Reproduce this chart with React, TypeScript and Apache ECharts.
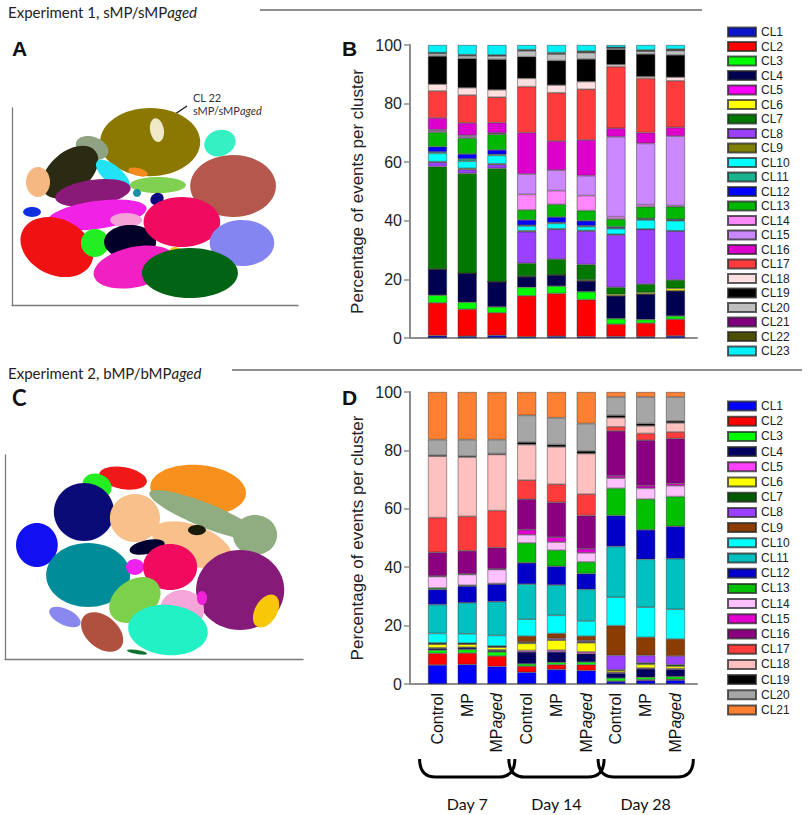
import React, { useEffect, useRef } from "react";
import * as echarts from "echarts";

// ---------- categories ----------
const CLUSTERS_B = Array.from({ length: 23 }, (_, i) => "CL" + (i + 1));
const CLUSTERS_D = Array.from({ length: 21 }, (_, i) => "CL" + (i + 1));
const GROUP_LABELS = ["Control", "MP", "MPaged", "Control", "MP", "MPaged", "Control", "MP", "MPaged"];
const DAY_LABELS = ["Day 7", "Day 14", "Day 28"];
const DAY_SPANS = [
  [0, 2],
  [3, 5],
  [6, 8],
];

const COLORS_B = [
  "#0a14c8", "#ff0000", "#00ff00", "#000050", "#ff00ff", "#ffff00", "#007800", "#9b40ff",
  "#808000", "#00ffff", "#19b38f", "#0000ff", "#00b800", "#ff88ff", "#cc88ff", "#dd00cc",
  "#ff3c3c", "#ffe0e0", "#000000", "#bfbfbf", "#800080", "#4d4d00", "#00f0f8",
];
const COLORS_D = [
  "#0000ff", "#ff0000", "#00ff00", "#000060", "#ff40ff", "#ffff00", "#005a00", "#9b40ff",
  "#8b3c00", "#00ffff", "#00c0c0", "#0000c8", "#00c000", "#ffc0ff", "#e000d0", "#8b0080",
  "#ff3c3c", "#ffc0c0", "#000000", "#a6a6a6", "#ff8033",
];

// ---------- Experiment 1 (B): % per cluster CL1..CL23, bottom to top ----------
const B_D7_CONTROL = [0.8, 11.2, 2.6, 8.9, 0, 0, 35.0, 1.5, 0.2, 2.8, 0.5, 1.8, 4.9, 0.5, 0.4, 4.0, 9.2, 2.3, 9.6, 0.9, 0.2, 0.1, 2.6];
const B_D7_MP = [0.6, 9.2, 2.4, 9.9, 0, 0, 34.1, 1.3, 0.4, 2.4, 0.8, 1.7, 5.4, 0.5, 0.5, 4.2, 9.5, 2.5, 10.0, 0.9, 0.2, 0.2, 3.3];
const B_D7_MPAGED = [0.9, 7.7, 2.0, 8.6, 0, 0, 38.7, 1.3, 0.3, 2.8, 0.4, 1.5, 5.3, 0.3, 0.2, 3.5, 8.7, 2.5, 10.4, 1.2, 0.1, 0.2, 3.4];
const B_D14_CONTROL = [0.4, 14.0, 2.9, 3.6, 0, 0.2, 4.4, 10.8, 0.3, 1.6, 0.3, 1.8, 3.4, 5.3, 7.0, 14.1, 15.7, 2.8, 7.4, 2.0, 0.2, 0.2, 1.6];
const B_D14_MP = [0.6, 14.6, 2.5, 3.8, 0, 0, 5.4, 10.2, 0.2, 1.8, 0.3, 1.9, 4.3, 4.7, 7.0, 9.9, 16.5, 2.6, 8.4, 2.2, 0.2, 0.3, 2.6];
const B_D14_MPAGED = [0.5, 12.6, 2.7, 3.7, 0, 0.3, 5.3, 11.4, 0.2, 1.3, 0.3, 1.7, 3.5, 5.1, 6.8, 12.2, 17.3, 2.6, 7.7, 2.2, 0.1, 0.4, 2.1];
const B_D28_CONTROL = [0.5, 4.2, 1.9, 7.8, 0, 0.5, 2.4, 17.9, 0.2, 1.9, 0.3, 0.4, 2.6, 0.8, 27.3, 2.9, 21.0, 0.7, 5.2, 0.5, 0.1, 0.1, 0.8];
const B_D28_MP = [0.4, 4.7, 1.2, 8.7, 0, 0.5, 2.9, 18.7, 0.1, 3.1, 0.2, 0.3, 4.0, 0.7, 20.9, 3.7, 18.5, 0.6, 7.7, 1.0, 0.1, 0.3, 1.7];
const B_D28_MPAGED = [0.7, 5.7, 1.1, 8.6, 0, 0.8, 2.9, 16.7, 0.1, 3.4, 0.2, 0.3, 4.3, 0.4, 23.7, 3.0, 15.9, 1.2, 7.6, 1.5, 0.1, 0.4, 1.4];
const B_BARS = [B_D7_CONTROL, B_D7_MP, B_D7_MPAGED, B_D14_CONTROL, B_D14_MP, B_D14_MPAGED, B_D28_CONTROL, B_D28_MP, B_D28_MPAGED];

// ---------- Experiment 2 (D): % per cluster CL1..CL21 ----------
const D_D7_CONTROL = [6.5, 4.0, 1.1, 0.6, 0.2, 1.2, 0.2, 0.1, 0.2, 3.2, 9.9, 5.2, 0.5, 3.9, 0.2, 8.1, 11.9, 21.0, 0.3, 5.4, 16.3];
const D_D7_MP = [6.7, 3.9, 1.2, 0.6, 0.2, 1.0, 0.2, 0.1, 0.1, 3.2, 10.6, 5.7, 0.3, 3.7, 0.2, 7.9, 11.8, 20.3, 0.3, 5.7, 16.3];
const D_D7_MPAGED = [6.0, 3.6, 1.4, 0.5, 0.2, 0.9, 0.2, 0.1, 0.1, 3.6, 11.6, 6.0, 0.2, 4.8, 0.2, 7.3, 12.7, 19.2, 0.3, 4.8, 16.3];
const D_D14_CONTROL = [4.0, 2.1, 0.8, 4.1, 0.5, 2.4, 0.3, 0.2, 2.0, 5.8, 12.0, 7.3, 6.8, 2.8, 1.7, 10.5, 6.5, 12.2, 0.8, 9.2, 8.0];
const D_D14_MP = [5.0, 1.6, 0.8, 3.6, 0.6, 3.4, 0.2, 0.4, 1.7, 6.2, 10.4, 6.4, 5.5, 2.8, 1.7, 11.9, 6.2, 12.8, 0.8, 9.2, 8.8];
const D_D14_MPAGED = [4.6, 2.0, 0.9, 2.9, 0.6, 3.1, 0.3, 0.4, 1.6, 5.2, 10.8, 5.4, 4.0, 3.1, 1.4, 11.4, 7.3, 13.9, 0.9, 9.4, 10.8];
const D_D28_CONTROL = [0.8, 0.2, 1.0, 1.7, 0.3, 0.6, 0.3, 4.9, 10.2, 9.7, 17.4, 10.6, 9.3, 3.5, 0.8, 15.4, 1.4, 3.1, 0.8, 6.3, 1.7];
const D_D28_MP = [1.2, 0.3, 0.8, 2.9, 0.3, 1.2, 0.5, 2.6, 6.2, 10.3, 16.4, 10.1, 10.5, 3.7, 0.9, 15.6, 2.3, 2.6, 0.8, 9.1, 1.7];
const D_D28_MPAGED = [1.3, 0.3, 0.9, 2.5, 0.3, 0.8, 0.5, 3.0, 5.8, 10.2, 17.3, 11.1, 10.2, 3.7, 0.8, 15.4, 2.2, 3.1, 0.7, 8.2, 1.7];
const D_BARS = [D_D7_CONTROL, D_D7_MP, D_D7_MPAGED, D_D14_CONTROL, D_D14_MP, D_D14_MPAGED, D_D28_CONTROL, D_D28_MP, D_D28_MPAGED];

// ---------- t-SNE cluster islands: [x, y, radiusX, radiusY, tiltDeg, colour] in t-SNE units (0-100) ----------
const TSNE_A = [
  [48.3, 82.7, 17.5, 17.3, 0, "#8a7800"],
  [50.7, 88.8, 2.4, 6.1, 10, "#efe9c8"],
  [28.0, 79.7, 5.9, 5.6, -20, "#8fa383"],
  [20.3, 67.5, 11.5, 10.2, 40, "#2b2a12"],
  [9.1, 62.4, 4.2, 7.6, 0, "#f5b882"],
  [35.3, 66.0, 7.3, 4.6, -40, "#22e3f5"],
  [44.1, 67.5, 3.5, 2.0, -15, "#f58a1e"],
  [51.0, 60.9, 9.8, 4.1, 0, "#80d052"],
  [72.7, 82.2, 5.6, 6.6, 20, "#35f0c3"],
  [77.3, 60.4, 15.0, 15.7, 0, "#b5574d"],
  [28.3, 56.9, 13.3, 6.6, 8, "#8a1a78"],
  [43.7, 56.9, 1.4, 2.0, 0, "#1a8fa5"],
  [50.7, 53.8, 2.4, 3.0, 30, "#0a0a80"],
  [29.7, 45.7, 17.5, 7.1, 8, "#f022e6"],
  [39.9, 43.1, 5.6, 3.6, 0, "#f5a3d6"],
  [7.0, 47.2, 3.1, 2.5, 0, "#1030e0"],
  [15.7, 29.4, 13.3, 14.2, -25, "#f01212"],
  [29.0, 31.5, 4.9, 7.1, 0, "#22ee22"],
  [41.3, 32.0, 9.1, 8.6, 0, "#000028"],
  [59.4, 42.1, 13.4, 12.7, 0, "#f00a60"],
  [80.4, 31.5, 11.3, 11.7, 0, "#8585f2"],
  [43.0, 19.3, 14.7, 10.2, 12, "#f020c2"],
  [57.0, 26.9, 2.1, 2.5, 0, "#f5c518"],
  [62.2, 16.2, 16.8, 12.7, 0, "#006414"],
];
const TSNE_C = [
  [39.6, 88.7, 8.1, 5.4, -10, "#f01818"],
  [30.9, 84.8, 5.0, 5.9, -20, "#22ee22"],
  [64.8, 82.8, 16.1, 12.3, -5, "#f7901c"],
  [26.5, 72.1, 10.1, 14.2, 0, "#0b0b78"],
  [10.7, 55.9, 7.0, 10.8, 0, "#1010f0"],
  [43.6, 69.1, 8.4, 11.8, 0, "#f8c08a"],
  [62.8, 55.9, 14.1, 9.8, -20, "#f8c08a"],
  [67.1, 70.6, 20.1, 5.9, -22, "#8fad80"],
  [83.9, 60.8, 7.4, 9.8, 0, "#8fad80"],
  [64.4, 63.2, 3.0, 2.5, 0, "#1a1a08"],
  [47.7, 54.9, 6.0, 3.4, 12, "#000030"],
  [27.9, 41.2, 14.1, 15.7, 0, "#008c98"],
  [43.6, 45.1, 3.0, 3.9, 0, "#ee22ee"],
  [55.4, 45.1, 9.1, 11.3, 0, "#f20a5e"],
  [78.9, 33.8, 14.8, 19.6, 0, "#861a78"],
  [43.6, 28.9, 9.4, 9.8, 35, "#7dd04a"],
  [59.4, 24.0, 7.4, 9.8, 0, "#f5a5d8"],
  [66.1, 29.9, 1.7, 3.4, 0, "#ee20d8"],
  [54.7, 14.2, 13.4, 12.3, -5, "#22f0c5"],
  [87.6, 23.5, 3.7, 8.8, -30, "#f8c808"],
  [20.1, 20.6, 5.7, 3.9, -25, "#8888ee"],
  [32.6, 13.2, 8.1, 7.8, -40, "#b0503f"],
  [44.3, 3.4, 3.4, 1.0, -10, "#107030"],
];

const FONT = "'Liberation Sans', Arial, sans-serif";
const FONT_C = "Lato, 'Open Sans', sans-serif";

function tsneSeries(list: any[], idx: number) {
  return {
    type: "custom",
    xAxisIndex: idx,
    yAxisIndex: idx,
    silent: true,
    clip: false,
    data: list.map((b) => [b[0], b[1]]),
    renderItem: (params: any, api: any) => {
      const b = list[params.dataIndex];
      const c = api.coord([b[0], b[1]]);
      const s = api.size([b[2], b[3]]);
      return {
        type: "ellipse",
        x: c[0],
        y: c[1],
        rotation: (b[4] * Math.PI) / 180,
        shape: { cx: 0, cy: 0, rx: s[0], ry: s[1] },
        style: { fill: b[5] },
      };
    },
  };
}

const plainAxis = (gridIndex: number, color: string, width: number) => ({
  gridIndex,
  type: "value",
  min: 0,
  max: 100,
  axisLine: { show: true, onZero: false, lineStyle: { color, width } },
  axisTick: { show: false },
  axisLabel: { show: false },
  splitLine: { show: false },
});

const frameY = (gridIndex: number) => ({
  gridIndex,
  type: "value",
  min: 0,
  max: 100,
  interval: 20,
  axisLine: { show: true, lineStyle: { color: "#8c8c8c", width: 2 } },
  axisTick: { show: true, length: 6, lineStyle: { color: "#8c8c8c", width: 1.5 } },
  axisLabel: { fontSize: 16, fontFamily: FONT, color: "#222", margin: 8 },
  splitLine: { show: false },
  name: "Percentage of events per cluster",
  nameLocation: "middle",
  nameGap: 44,
  nameTextStyle: { fontSize: 17, fontFamily: FONT, color: "#222" },
});

export default function App() {
  const ref = useRef<HTMLDivElement>(null);
  useEffect(() => {
    if (!ref.current) return;
    const chart = echarts.init(ref.current, null, { renderer: "svg" });

    const barBorder = { borderColor: "rgba(40,40,40,0.75)", borderWidth: 0.6 };
    const seriesB = CLUSTERS_B.map((n, k) => ({
      type: "bar",
      name: "B" + n,
      stack: "B",
      xAxisIndex: 2,
      yAxisIndex: 2,
      barWidth: 19,
      silent: true,
      data: B_BARS.map((bar) => bar[k]),
      itemStyle: { color: COLORS_B[k], ...barBorder },
    }));
    const seriesD = CLUSTERS_D.map((n, k) => ({
      type: "bar",
      name: "D" + n,
      stack: "D",
      xAxisIndex: 5,
      yAxisIndex: 5,
      barWidth: 19,
      silent: true,
      data: D_BARS.map((bar) => bar[k]),
      itemStyle: { color: COLORS_D[k], ...barBorder },
    }));

    const brackets = {
      type: "custom",
      xAxisIndex: 5,
      yAxisIndex: 5,
      silent: true,
      clip: false,
      data: DAY_SPANS,
      renderItem: (params: any, api: any) => {
        const a = api.coord([api.value(0), 0]);
        const b = api.coord([api.value(1), 0]);
        const band = api.size([1, 0])[0];
        const x0 = a[0] - band * 0.6;
        const x1 = b[0] + band * 0.6;
        const yT = a[1] + 75;
        const yB = a[1] + 93;
        const r = 16;
        return {
          type: "group",
          children: [
            {
              type: "path",
              shape: {
                pathData: `M${x0} ${yT} Q${x0} ${yB} ${x0 + r} ${yB} L${x1 - r} ${yB} Q${x1} ${yB} ${x1} ${yT}`,
              },
              style: { fill: "none", stroke: "#000", lineWidth: 3 },
            },
            {
              type: "text",
              x: (x0 + x1) / 2,
              y: a[1] + 119,
              style: {
                text: DAY_LABELS[params.dataIndex],
                fontSize: 16,
                fontFamily: FONT_C,
                fill: "#111",
                align: "center",
                verticalAlign: "middle",
              },
            },
          ],
        };
      },
    };

    const legendCommon = {
      orient: "vertical",
      left: 727,
      itemWidth: 28,
      itemHeight: 9,
      icon: "rect",
      selectedMode: false,
      padding: 0,
      formatter: (n: string) => n.slice(1),
      textStyle: { fontSize: 12, lineHeight: 12, fontFamily: FONT, color: "#222" },
    };

    const option: any = {
      animation: false,
      textStyle: { fontFamily: FONT },
      grid: [
        { left: 12, top: 108, width: 286, height: 197, outerBoundsMode: "none" },
        { left: 410, top: 45, width: 287, height: 293, outerBoundsMode: "none" },
        { left: 422.6, top: 45, width: 267.75, height: 293, outerBoundsMode: "none" },
        { left: 5, top: 455, width: 298, height: 204, outerBoundsMode: "none" },
        { left: 410, top: 392, width: 287, height: 292, outerBoundsMode: "none" },
        { left: 422.6, top: 392, width: 267.75, height: 292, outerBoundsMode: "none" },
      ],
      xAxis: [
        plainAxis(0, "#7a7a7a", 1.3),
        { ...plainAxis(1, "#8c8c8c", 2), max: 1 },
        { gridIndex: 2, type: "category", data: GROUP_LABELS, show: false },
        plainAxis(3, "#7a7a7a", 1.3),
        { ...plainAxis(4, "#8c8c8c", 2), max: 1 },
        {
          gridIndex: 5,
          type: "category",
          data: GROUP_LABELS,
          axisLine: { show: false },
          axisTick: { show: false },
          axisLabel: {
            rotate: 90,
            margin: 9,
            fontSize: 16,
            fontFamily: FONT,
            color: "#111",
            formatter: (v: string) => (v === "MPaged" ? "MP{i|aged}" : v),
            rich: { i: { fontStyle: "italic", fontSize: 16, fontFamily: FONT, color: "#111" } },
          },
        },
      ],
      yAxis: [
        plainAxis(0, "#7a7a7a", 1.3),
        frameY(1),
        { gridIndex: 2, type: "value", min: 0, max: 100, show: false },
        plainAxis(3, "#7a7a7a", 1.3),
        frameY(4),
        { gridIndex: 5, type: "value", min: 0, max: 100, show: false },
      ],
      legend: [
        { ...legendCommon, top: 26, itemGap: 2.5, data: CLUSTERS_B.map((n) => "B" + n) },
        { ...legendCommon, top: 400, itemGap: 3.2, data: CLUSTERS_D.map((n) => "D" + n) },
      ],
      graphic: [
        {
          type: "text",
          x: 8,
          y: 12,
          style: {
            text: "Experiment 1, sMP/sMP{i|aged}",
            fontSize: 15,
            fontFamily: FONT_C,
            fill: "#222",
            verticalAlign: "middle",
            rich: { i: { fontStyle: "italic", fontSize: 15, fontFamily: FONT_C, fill: "#222" } },
          },
        },
        { type: "line", shape: { x1: 260, y1: 10, x2: 702, y2: 10 }, style: { stroke: "#222", lineWidth: 1.2 } },
        {
          type: "text",
          x: 8,
          y: 373,
          style: {
            text: "Experiment 2, bMP/bMP{i|aged}",
            fontSize: 15,
            fontFamily: FONT_C,
            fill: "#222",
            verticalAlign: "middle",
            rich: { i: { fontStyle: "italic", fontSize: 15, fontFamily: FONT_C, fill: "#222" } },
          },
        },
        { type: "line", shape: { x1: 232, y1: 370, x2: 802, y2: 370 }, style: { stroke: "#222", lineWidth: 1.2 } },
        { type: "text", x: 12, y: 48, style: { text: "A", fontSize: 21, fontWeight: "bold", fontFamily: FONT, fill: "#111", verticalAlign: "middle" } },
        { type: "text", x: 342, y: 48, style: { text: "B", fontSize: 21, fontWeight: "bold", fontFamily: FONT, fill: "#111", verticalAlign: "middle" } },
        { type: "text", x: 12, y: 397, style: { text: "C", fontSize: 22, fontWeight: "bold", fontFamily: FONT_C, fill: "#111", verticalAlign: "middle" } },
        { type: "text", x: 342, y: 397, style: { text: "D", fontSize: 21, fontWeight: "bold", fontFamily: FONT, fill: "#111", verticalAlign: "middle" } },
        { type: "text", x: 193, y: 97, style: { text: "CL 22", fontSize: 11, fontFamily: FONT_C, fill: "#333", verticalAlign: "middle" } },
        {
          type: "text",
          x: 193,
          y: 110,
          style: {
            text: "sMP/sMP{i|aged}",
            fontSize: 11,
            fontFamily: FONT_C,
            fill: "#333",
            verticalAlign: "middle",
            rich: { i: { fontStyle: "italic", fontSize: 11, fontFamily: FONT_C, fill: "#333" } },
          },
        },
        { type: "line", shape: { x1: 187, y1: 106, x2: 167, y2: 119.5 }, style: { stroke: "#111", lineWidth: 1.2 } },
        { type: "polygon", shape: { points: [[163, 122], [170.5, 120.6], [167.2, 115.6]] }, style: { fill: "#111" } },
      ],
      series: [tsneSeries(TSNE_A, 0), tsneSeries(TSNE_C, 3), ...seriesB, ...seriesD, brackets],
    };

    chart.setOption(option);
    return () => chart.dispose();
  }, []);

  return <div ref={ref} style={{ position: "absolute", left: 0, top: 0, width: 809, height: 815, background: "#fff" }} />;
}
